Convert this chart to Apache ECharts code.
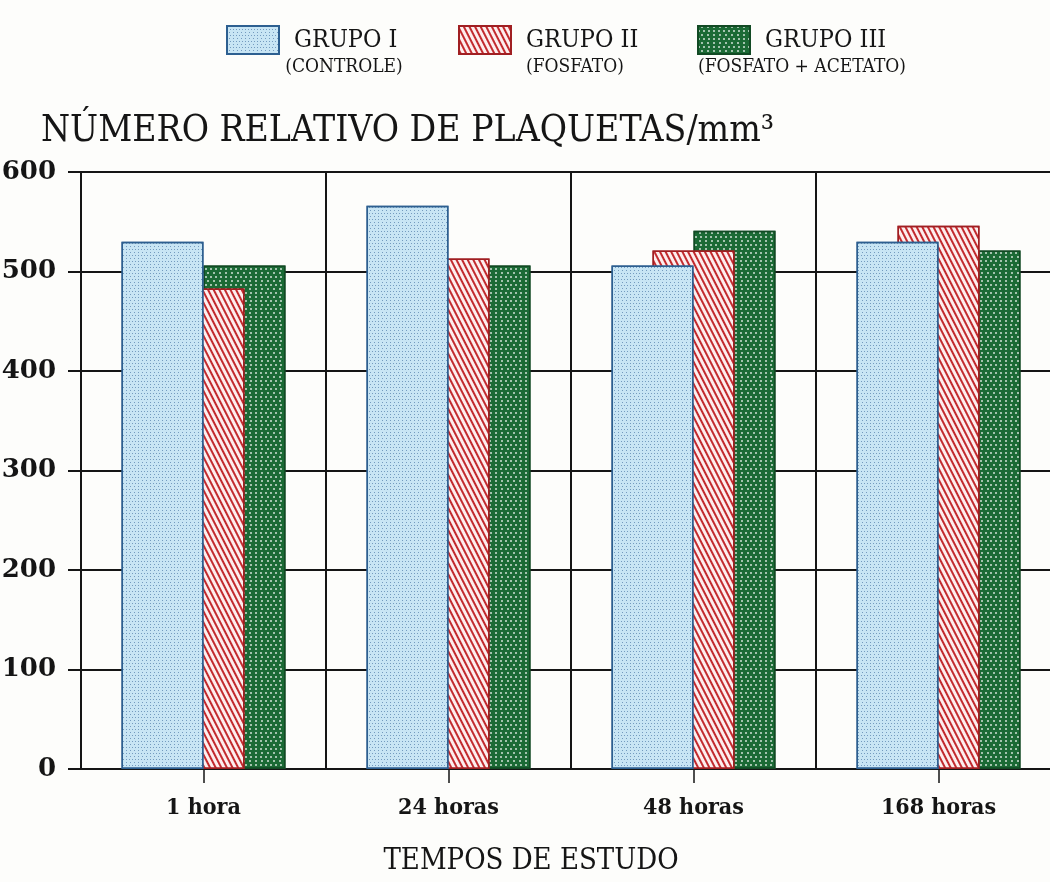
<!DOCTYPE html>
<html><head><meta charset="utf-8">
<script src="https://cdn.jsdelivr.net/npm/echarts@6/dist/echarts.min.js"></script>
<style>html,body{margin:0;padding:0;background:#fdfdfb;}#c{width:1050px;height:882px;}</style>
</head><body><div id="c"></div>
<script>
const categories = ['1 hora', '24 horas', '48 horas', '168 horas'];
const grupo1 = [530, 566, 506, 530];
const grupo2 = [483, 513, 521, 546];
const grupo3 = [506, 506, 541, 521];
const seriesNames = ['GRUPO I', 'GRUPO II', 'GRUPO III'];
const subLabels = ['(CONTROLE)', '(FOSFATO)', '(FOSFATO + ACETATO)'];
const yTicks = [0, 100, 200, 300, 400, 500, 600];

const FONT = "'DejaVu Serif Condensed', 'DejaVu Serif', serif";
const INK = '#151515';
const chart = echarts.init(document.getElementById('c'));

const legendLeft = [221, 453, 692];
const subX = [344, 575, 802];

chart.setOption({
  backgroundColor: '#fdfdfb',
  animation: false,
  textStyle: { fontFamily: FONT, color: INK },
  title: {
    text: 'NÚMERO RELATIVO DE PLAQUETAS/mm³',
    left: 36, top: 108,
    textStyle: { fontFamily: FONT, fontSize: 37, fontWeight: 'normal', color: INK }
  },
  legend: seriesNames.map((n, i) => ({
    data: [n], left: legendLeft[i], top: 20,
    icon: 'rect', itemWidth: 52, itemHeight: 28,
    textStyle: { fontFamily: FONT, fontSize: 25, color: INK, padding: [6, 0, 0, 10] }
  })),
  graphic: [
    ...subLabels.map((t, i) => ({
      type: 'text', x: subX[i], y: 67,
      style: { text: t, font: "19px " + FONT, fill: INK, textAlign: 'center', textVerticalAlign: 'middle' }
    })),
    { type: 'text', x: 531, y: 861,
      style: { text: 'TEMPOS DE ESTUDO', font: "29px " + FONT, fill: INK, textAlign: 'center', textVerticalAlign: 'middle' } }
  ],
  grid: { left: 81, top: 172, right: -11, bottom: 113, containLabel: false, outerBoundsMode: 'none' },
  xAxis: {
    type: 'category', data: categories,
    axisLine: { lineStyle: { color: INK, width: 2 } },
    axisTick: { show: true, alignWithLabel: true, length: 14, lineStyle: { color: INK, width: 1.5 } },
    splitLine: { show: true, lineStyle: { color: INK, width: 2 } },
    axisLabel: { fontFamily: FONT, fontSize: 23, color: INK, margin: 28, fontWeight: 'bold' }
  },
  yAxis: {
    type: 'value', min: 0, max: 600, interval: 100,
    axisLine: { show: true, lineStyle: { color: INK, width: 2 } },
    axisTick: { show: true, length: 13, lineStyle: { color: INK, width: 2 } },
    splitLine: { show: true, lineStyle: { color: INK, width: 2 } },
    axisLabel: { fontFamily: "'DejaVu Serif', serif", fontSize: 26, color: INK, margin: 25, fontWeight: 'bold',
      formatter: v => yTicks.includes(v) ? String(v) : '' }
  },
  series: [
    { name: seriesNames[0], type: 'bar', data: grupo1, barWidth: 82, barGap: '-50%', z: 4,
      itemStyle: { color: '#c8e5f4', borderColor: '#2d5f90', borderWidth: 1.5,
        decal: { symbol: 'rect', color: 'rgba(60,105,155,0.6)', dashArrayX: [[1, 2], [0, 1.5, 1, 0.5]], dashArrayY: [1, 1.5], symbolSize: 1 } } },
    { name: seriesNames[1], type: 'bar', data: grupo2, barWidth: 82, barGap: '-50%', z: 3,
      itemStyle: { color: '#fdeeee', borderColor: '#a01f22', borderWidth: 1.5,
        decal: { symbol: 'rect', color: '#c22a2e', dashArrayX: [1, 0], dashArrayY: [2, 2.6], rotation: 1.1, symbolSize: 1 } } },
    { name: seriesNames[2], type: 'bar', data: grupo3, barWidth: 82, barGap: '-50%', z: 2,
      itemStyle: { color: '#1b6a35', borderColor: '#124a24', borderWidth: 1.5,
        decal: { symbol: 'circle', color: 'rgba(255,255,255,0.8)', dashArrayX: [[2, 3], [0, 2.5, 2, 0.5]], dashArrayY: [2, 2], symbolSize: 1 } } }
  ]
});
</script></body></html>
